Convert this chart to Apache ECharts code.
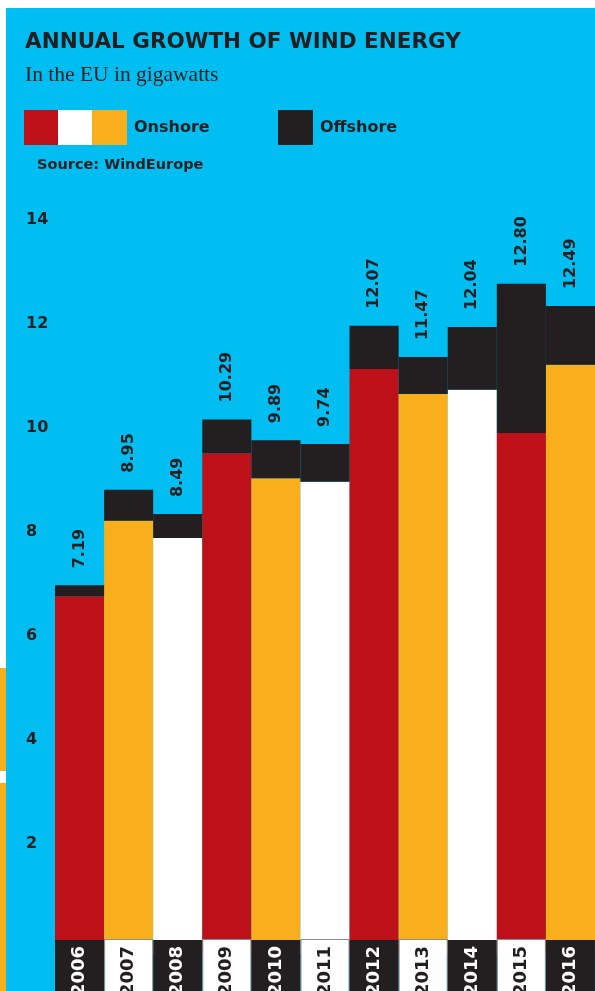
<!DOCTYPE html>
<html>
<head>
<meta charset="utf-8">
<script src="https://cdn.jsdelivr.net/npm/echarts@6/dist/echarts.min.js"></script>
<style>
  html, body { margin: 0; padding: 0; background: #fff; }
  #chart { width: 595px; height: 991px; }
</style>
</head>
<body>
<div id="chart"></div>
<script>
// data
var years = ['2006', '2007', '2008', '2009', '2010', '2011', '2012', '2013', '2014', '2015', '2016'];
var onshore = [6.88, 8.33, 8.00, 9.63, 9.15, 9.08, 11.25, 10.77, 10.85, 10.02, 11.33];
var offshore = [0.21, 0.60, 0.46, 0.65, 0.73, 0.73, 0.83, 0.71, 1.21, 2.87, 1.13];
var totals = [7.19, 8.95, 8.49, 10.29, 9.89, 9.74, 12.07, 11.47, 12.04, 12.80, 12.49];
var yTicks = [0, 2, 4, 6, 8, 10, 12, 14];

var CYAN = '#00bdf2';
var INK = '#231f20';
var onColors = ['#bd1019', '#f9ae1b', '#ffffff'];
var SANS = '"DejaVu Sans", sans-serif';

var myChart = echarts.init(document.getElementById('chart'));

var option = {
    backgroundColor: CYAN,
    animation: false,
    title: {
        text: 'ANNUAL GROWTH OF WIND ENERGY',
        subtext: 'In the EU in gigawatts',
        left: 20,
        top: 26,
        itemGap: 11,
        textStyle: { color: INK, fontFamily: SANS, fontWeight: 'bold', fontSize: 21.5 },
        subtextStyle: { color: INK, fontFamily: '"Liberation Serif", serif', fontSize: 21.5 }
    },
    graphic: [
        // white page edges
        { type: 'rect', shape: { x: 0, y: 0, width: 595, height: 8 }, style: { fill: '#fff' } },
        { type: 'rect', shape: { x: 0, y: 0, width: 6, height: 668 }, style: { fill: '#fff' } },
        { type: 'rect', shape: { x: 0, y: 668, width: 6, height: 103 }, style: { fill: '#f9ae1b' } },
        { type: 'rect', shape: { x: 0, y: 771, width: 6, height: 12 }, style: { fill: '#fff' } },
        { type: 'rect', shape: { x: 0, y: 783, width: 6, height: 208 }, style: { fill: '#f9ae1b' } },
        // legend
        { type: 'rect', shape: { x: 24, y: 110, width: 34, height: 35 }, style: { fill: onColors[0] } },
        { type: 'rect', shape: { x: 58, y: 110, width: 34, height: 35 }, style: { fill: onColors[2] } },
        { type: 'rect', shape: { x: 92, y: 110, width: 35, height: 35 }, style: { fill: onColors[1] } },
        { type: 'text', x: 134, y: 128, style: { text: 'Onshore', fill: INK, font: 'bold 16px ' + SANS, textVerticalAlign: 'middle' } },
        { type: 'rect', shape: { x: 278, y: 110, width: 35, height: 35 }, style: { fill: INK } },
        { type: 'text', x: 320, y: 128, style: { text: 'Offshore', fill: INK, font: 'bold 16px ' + SANS, textVerticalAlign: 'middle' } },
        { type: 'text', x: 37, y: 165, style: { text: 'Source: WindEurope', fill: INK, font: 'bold 14.5px ' + SANS, textVerticalAlign: 'middle' } }
    ],
    grid: {
        left: 55,
        right: 0,
        top: 226,
        bottom: 37,
        outerBoundsMode: 'none',
        containLabel: false
    },
    xAxis: {
        type: 'category',
        data: years,
        z: 10,
        axisLine: { show: false },
        axisTick: { show: false },
        axisLabel: {
            interval: 0,
            rotate: 90,
            margin: -14,
            formatter: function (v, i) {
                return (i % 2 === 0 ? '{d|' : '{w|') + v + '}';
            },
            rich: {
                d: {
                    backgroundColor: INK, color: '#fff', width: 56, height: 49,
                    align: 'right', padding: [0, 6, 0, 0],
                    fontFamily: SANS, fontWeight: 'bold', fontSize: 18
                },
                w: {
                    backgroundColor: '#fff', color: INK, width: 56, height: 47,
                    borderColor: '#8c8c8c', borderWidth: 1,
                    align: 'right', padding: [0, 6, 0, 0],
                    fontFamily: SANS, fontWeight: 'bold', fontSize: 18
                }
            }
        }
    },
    yAxis: {
        type: 'value',
        min: yTicks[0],
        max: yTicks[yTicks.length - 1],
        interval: 2,
        splitLine: { show: false },
        axisLine: { show: false },
        axisTick: { show: false },
        axisLabel: {
            showMinLabel: false,
            align: 'left',
            verticalAlign: 'bottom',
            lineHeight: 13,
            margin: 29,
            color: INK,
            fontFamily: SANS,
            fontWeight: 'bold',
            fontSize: 16
        }
    },
    series: [
        {
            name: 'Onshore',
            type: 'bar',
            stack: 'wind',
            barCategoryGap: '0%',
            data: onshore,
            itemStyle: {
                color: function (p) { return onColors[p.dataIndex % 3]; }
            }
        },
        {
            name: 'Offshore',
            type: 'bar',
            stack: 'wind',
            barCategoryGap: '0%',
            data: offshore,
            itemStyle: { color: INK },
            label: {
                show: true,
                position: 'top',
                rotate: 90,
                align: 'left',
                verticalAlign: 'middle',
                distance: 17,
                color: INK,
                fontFamily: SANS,
                fontWeight: 'bold',
                fontSize: 16,
                formatter: function (p) { return totals[p.dataIndex].toFixed(2); }
            }
        }
    ]
};

myChart.setOption(option);
</script>
</body>
</html>
